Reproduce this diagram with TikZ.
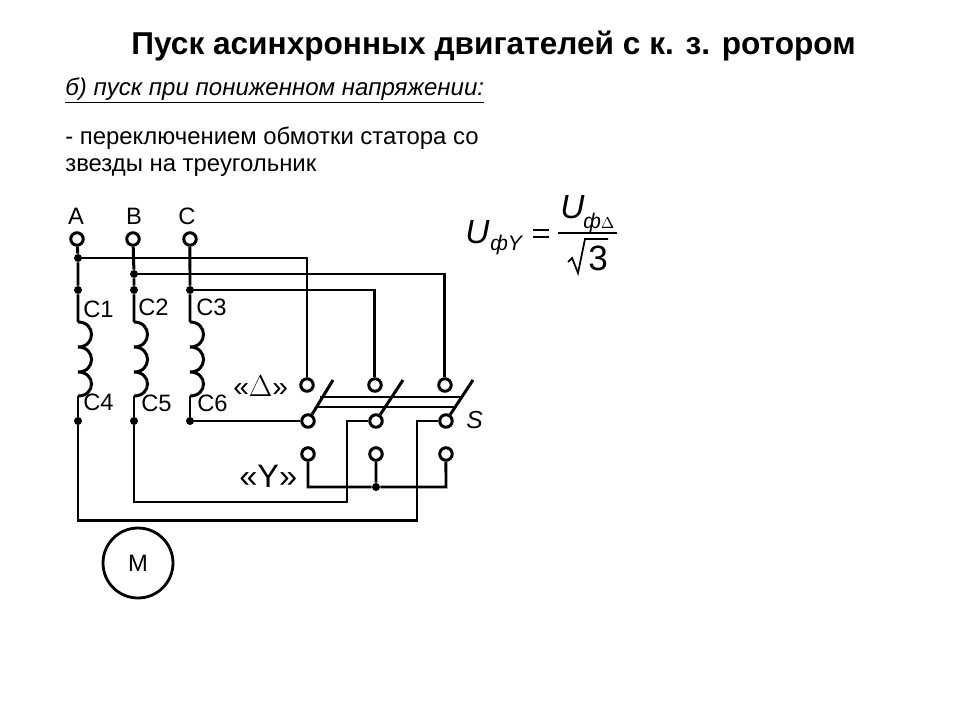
\documentclass[tikz,border=0pt]{standalone}
\usepackage{fontspec}
\setmainfont{Liberation Sans}
\usetikzlibrary{positioning}
\tikzset{
  wire/.style={line width=1.7pt},
  thinwire/.style={line width=0.8pt},
  term/.style={circle,draw,fill=white,line width=1.7pt,inner sep=0pt,minimum size=0.25cm},
  dot/.style={circle,fill=black,inner sep=0pt,minimum size=0.16cm},
  txt/.style={anchor=base west,inner sep=0pt,text=black},
  lbl/.style={txt,font=\fontsize{13.5pt}{15pt}\selectfont},
  on grid
}
\begin{document}
\begin{tikzpicture}[x=0.02cm,y=-0.02cm]
\useasboundingbox (0,0) rectangle (960,720);
% heading
\node[txt,font=\fontsize{18pt}{20pt}\selectfont\bfseries] (title) at (131,54) {Пуск асинхронных двигателей с к. з. ротором};
\node[txt,font=\fontsize{13.7pt}{16pt}\selectfont\itshape] (sub) at (65,95) {\underline{б) пуск при пониженном напряжении:}};
\node[txt,font=\fontsize{13.6pt}{16pt}\selectfont] (line1) at (65,144) {- переключением обмотки статора со};
\node[txt,font=\fontsize{13.6pt}{16pt}\selectfont] (line2) at (65,171) {звезды на треугольник};
% supply terminals
\node[term] (A) at (77,239) {};
\node[term,right=1.12cm of A] (B) {};
\node[term,right=1.14cm of B] (C) {};
\node[lbl,anchor=base] (la) at (76,224) {A};
\node[lbl,anchor=base] (lb) at (134,224) {B};
\node[lbl,anchor=base] (lc) at (187,224) {C};
% switch
\node[term] (d1) at (307,385) {};
\node[term,right=1.36cm of d1] (d2) {};
\node[term,right=1.40cm of d2] (d3) {};
\node[term] (m1) at (308,421) {};
\node[term,right=1.36cm of m1] (m2) {};
\node[term,right=1.40cm of m2] (m3) {};
\node[term] (y1) at (308,454) {};
\node[term,right=1.36cm of y1] (y2) {};
\node[term,right=1.40cm of y2] (y3) {};
% junctions
\node[dot] (ja) at (78,258) {};
\node[dot] (jb) at (134,274) {};
\node[dot] (a1) at (78,290) {};
\node[dot] (b1) at (134,290) {};
\node[dot] (c1) at (190,290) {};
\node[dot] (a2) at (78,421) {};
\node[dot] (b2) at (134,421) {};
\node[dot] (c2) at (190,421) {};
\node[dot] (jy) at (376,487) {};
\coordinate (a3) at (78,520);
\coordinate (b3) at (134,502);
\coordinate (ta) at (78,322);
\coordinate (tb) at (134,322);
\coordinate (tc) at (190,322);
\coordinate (ea) at (78,396);
\coordinate (eb) at (134,396);
\coordinate (ec) at (190,396);
\coordinate (k3) at (417,520);
\coordinate (k2) at (347,502);
\coordinate (yl) at (308,487);
\coordinate (yr) at (446,487);
% phases
\foreach \p/\q/\r/\s in {A/ja/a1/ta,B/jb/b1/tb,C/c1/c1/tc}{
  \draw[wire] (\p) -- (\q) -- (\r) -- (\s);
}
\foreach \x in {78,134,190}{
  \draw[wire] (\x,322) .. controls (\x+18,322) and (\x+18,347) .. (\x,347)
    .. controls (\x+18,347) and (\x+18,372) .. (\x,372)
    .. controls (\x+18,372) and (\x+18,396) .. (\x,396);
}
\draw[wire] (ea) -- (a2) -- (a3) -- (k3) -- (k3 |- m3) -- (m3);
\draw[wire] (eb) -- (b2) -- (b3) -- (k2) -- (k2 |- m2) -- (m2);
\draw[wire] (ec) -- (c2) -- (m1);
\draw[wire] (ja) -| (d1);
\draw[wire] (jb) -| (d3);
\draw[wire] (c1) -| (d2);
\draw[wire] (y1) -- (yl) -- (jy) -- (yr) -- (y3);
\draw[wire] (y2) -- (jy);
% blades
\coordinate (s1) at (333,380);
\coordinate (s2) at (403,380);
\coordinate (s3) at (473,380);
\draw[wire] (m1) -- (s1);
\draw[wire] (m2) -- (s2);
\draw[wire] (m3) -- (s3);
\coordinate (p1) at (320,397);
\coordinate (p2) at (461,397);
\coordinate (q1) at (317,407);
\coordinate (q2) at (456,407);
\draw[thinwire] (p1) -- (p2);
\draw[thinwire] (q1) -- (q2);
% labels
\node[lbl] (c1l) at (83,317) {C1};
\node[lbl] (c2l) at (138,315) {C2};
\node[lbl] (c3l) at (196,315) {C3};
\node[lbl] (c4l) at (83,410) {C4};
\node[lbl] (c5l) at (141,411) {C5};
\node[lbl] (c6l) at (197,411) {C6};
\node[txt,font=\fontsize{16pt}{20pt}\selectfont] (ld) at (233,396) {«{\fontsize{17.28pt}{20pt}\selectfont$\Delta$}»};
\node[txt,font=\fontsize{18.5pt}{20pt}\selectfont] (ly) at (239,487) {«Y»};
\node[lbl,font=\fontsize{14pt}{15pt}\selectfont\itshape] (ls) at (466,428) {S};
% motor
\node[circle,draw,line width=1.6pt,minimum size=1.4cm,inner sep=0pt,font=\fontsize{13.5pt}{15pt}\selectfont] (M) at (138,563) {M};
% formula
\node[txt,font=\fontsize{19pt}{21pt}\selectfont\itshape] (u1) at (465,243) {U};
\node[txt,font=\fontsize{12pt}{14pt}\selectfont\itshape] (u1s) at (490,250) {фY};
\node[txt,font=\fontsize{19pt}{21pt}\selectfont\itshape] (u2) at (560,218) {U};
\node[txt,font=\fontsize{12pt}{14pt}\selectfont\itshape] (u2s) at (583,228) {ф{\fontsize{9pt}{11pt}\selectfont$\Delta$}};
\node[txt,font=\fontsize{20pt}{22pt}\selectfont] (three) at (588,270) {3};
\coordinate (eq1) at (533,230);
\coordinate (eq2) at (549,230);
\coordinate (eq3) at (533,237);
\coordinate (eq4) at (549,237);
\draw[line width=0.8pt] (eq1) -- (eq2);
\draw[line width=0.8pt] (eq3) -- (eq4);
\coordinate (fr1) at (558,233);
\coordinate (fr2) at (617,233);
\draw[line width=1pt] (fr1) -- (fr2);
\coordinate (r1) at (568,262);
\coordinate (r2) at (572,258);
\coordinate (r3) at (578,273);
\coordinate (r4) at (585,239);
\coordinate (r5) at (608,239);
\draw[line width=1pt] (r1) -- (r2) -- (r3) -- (r4) -- (r5);
\end{tikzpicture}
\end{document}
